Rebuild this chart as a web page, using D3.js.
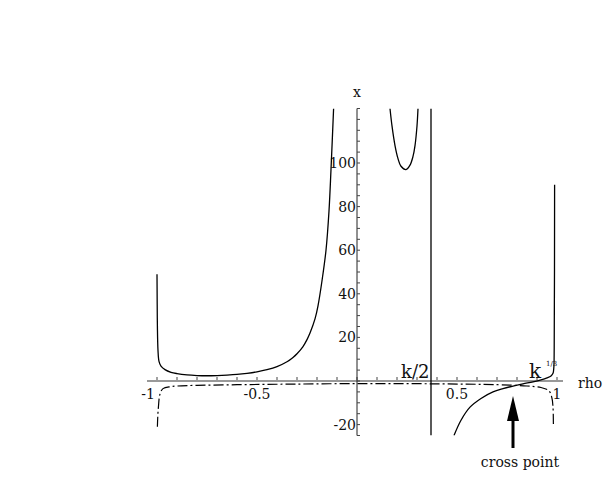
<!DOCTYPE html>
<html><head><meta charset="utf-8">
<script src="https://cdn.jsdelivr.net/npm/d3@7"></script>
<style>body{margin:0;background:#fff}svg{display:block}</style>
</head><body><div id="chart"></div>
<script>
// x-axis ticks / labels
const xTickValues = d3.range(-1, 1.0001, 0.1);
const xLabels = [[-1, "-1"], [-0.5, "-0.5"], [0.5, "0.5"], [1, "1"]];
const yTickValues = d3.range(-25, 125.001, 5);
const yLabels = [-20, 20, 40, 60, 80, 100];

// solid branch left of 0
const leftX = [-1.0, -0.999, -0.998, -0.995, -0.99, -0.98, -0.96, -0.93, -0.9, -0.85, -0.8, -0.75, -0.7, -0.65, -0.6, -0.55, -0.5, -0.45, -0.4, -0.35, -0.32, -0.3, -0.27, -0.25, -0.235, -0.21, -0.195, -0.175, -0.155, -0.14, -0.13, -0.117];
const leftY = [49, 35, 25, 14, 9, 6.8, 5.2, 4.0, 3.4, 2.8, 2.5, 2.4, 2.5, 2.7, 3.0, 3.5, 4.2, 5.2, 6.6, 8.8, 10.8, 12.5, 15.8, 19, 22, 28.5, 34.5, 46, 60, 78, 97, 125];
// U-shaped branch
const uX = [0.165, 0.175, 0.19, 0.205, 0.22, 0.245, 0.265, 0.28, 0.29, 0.3, 0.305];
const uY = [125, 117, 108, 102, 98.5, 97, 99, 103, 108, 117, 125];
// vertical asymptote
const vLineX = 0.37;
// right branch
const rightX = [0.485, 0.52, 0.565, 0.62, 0.68, 0.73, 0.78, 0.83, 0.88, 0.92, 0.95, 0.97, 0.98, 0.984, 0.986, 0.988];
const rightY = [-25, -18, -12, -8, -5, -3.5, -2.3, -1.3, -0.4, 0.5, 1.4, 2.3, 3.5, 6, 15, 90];
// dash-dot curve
const dashX = [-0.998, -0.996, -0.993, -0.985, -0.97, -0.93, -0.9, -0.8, -0.6, -0.4, 0, 0.4, 0.7, 0.85, 0.92, 0.96, 0.975, 0.98, 0.982];
const dashY = [-21, -16, -12, -6, -3.5, -2.6, -2.3, -2.0, -1.7, -1.5, -1.2, -1.3, -1.7, -2.3, -3.0, -4.5, -8, -12, -21];

const FONT = '"DejaVu Serif","Liberation Serif","Times New Roman",serif';
const W = 605, H = 490;
const x = d3.scaleLinear().domain([-1, 1]).range([157, 557]);
const y = d3.scaleLinear().domain([-25, 125]).range([435.5, 108.5]);

const svg = d3.select("#chart").append("svg").attr("width", W).attr("height", H)
  .attr("font-family", FONT);
svg.append("rect").attr("width", W).attr("height", H).attr("fill", "#fff");
svg.append("defs").append("clipPath").attr("id", "clip").append("rect")
  .attr("x", 0).attr("y", y(125)).attr("width", W).attr("height", y(-25) - y(125));

// x axis (gray)
svg.append("line").attr("x1", x(-1.05)).attr("x2", x(1.03)).attr("y1", y(0)).attr("y2", y(0))
  .attr("stroke", "#999").attr("stroke-width", 2);
svg.selectAll(".xt").data(xTickValues).enter().append("line")
  .attr("x1", d => x(d)).attr("x2", d => x(d)).attr("y1", y(0) - 1).attr("y2", y(0) - 4)
  .attr("stroke", "#444").attr("stroke-width", 1);
svg.selectAll(".xl").data(xLabels).enter().append("text")
  .attr("x", d => x(d[0]) + (d[0] === -1 ? -9 : 0)).attr("y", y(0) + 18)
  .attr("text-anchor", "middle").attr("font-size", 14).attr("fill", "#111").text(d => d[1]);

// y axis
svg.append("line").attr("x1", x(0)).attr("x2", x(0)).attr("y1", y(125)).attr("y2", y(-25))
  .attr("stroke", "#222").attr("stroke-width", 1);
svg.selectAll(".yt").data(yTickValues).enter().append("line")
  .attr("x1", x(0)).attr("x2", x(0) + 3).attr("y1", d => y(d)).attr("y2", d => y(d))
  .attr("stroke", "#444").attr("stroke-width", 1);
svg.selectAll(".yl").data(yLabels).enter().append("text")
  .attr("x", x(0) - 1).attr("y", d => y(d) + 5)
  .attr("text-anchor", "end").attr("font-size", 14).attr("fill", "#111").text(d => d);

svg.append("text").attr("x", x(0)).attr("y", 97).attr("text-anchor", "middle").attr("font-size", 14).attr("fill", "#111").text("x");
svg.append("text").attr("x", 578).attr("y", 388).attr("font-size", 14).attr("fill", "#111").text("rho");

const line = d3.line().x(d => x(d[0])).y(d => y(d[1])).curve(d3.curveCatmullRom.alpha(0.5));
const g = svg.append("g").attr("clip-path", "url(#clip)");
g.append("path").attr("d", line(d3.zip(leftX, leftY))).attr("fill", "none").attr("stroke", "#000").attr("stroke-width", 1.3);
g.append("path").attr("d", line(d3.zip(uX, uY))).attr("fill", "none").attr("stroke", "#000").attr("stroke-width", 1.3);
g.append("line").attr("x1", x(vLineX)).attr("x2", x(vLineX)).attr("y1", y(125)).attr("y2", y(-25)).attr("stroke", "#000").attr("stroke-width", 1.3);
g.append("path").attr("d", line(d3.zip(rightX, rightY))).attr("fill", "none").attr("stroke", "#000").attr("stroke-width", 1.3);
g.append("path").attr("d", line(d3.zip(dashX, dashY))).attr("fill", "none").attr("stroke", "#000").attr("stroke-width", 1.2)
  .attr("stroke-dasharray", "10,3,2,3");

// annotations
svg.append("text").attr("x", 401).attr("y", 378).attr("font-size", 18).attr("fill", "#111").text("k/2");
svg.append("text").attr("x", 529).attr("y", 378).attr("font-size", 20).attr("fill", "#111").text("k");
svg.append("text").attr("x", 546).attr("y", 366).attr("font-size", 7).attr("fill", "#111").text("1/3");

const ax = x(0.78);
svg.append("line").attr("x1", ax).attr("x2", ax).attr("y1", 448).attr("y2", 418).attr("stroke", "#000").attr("stroke-width", 3);
svg.append("path").attr("d", `M${ax},396 L${ax - 6},421 L${ax + 6},421 Z`).attr("fill", "#000");
svg.append("text").attr("x", 520).attr("y", 467).attr("text-anchor", "middle").attr("font-size", 14).attr("fill", "#111").text("cross point");
</script></body></html>
